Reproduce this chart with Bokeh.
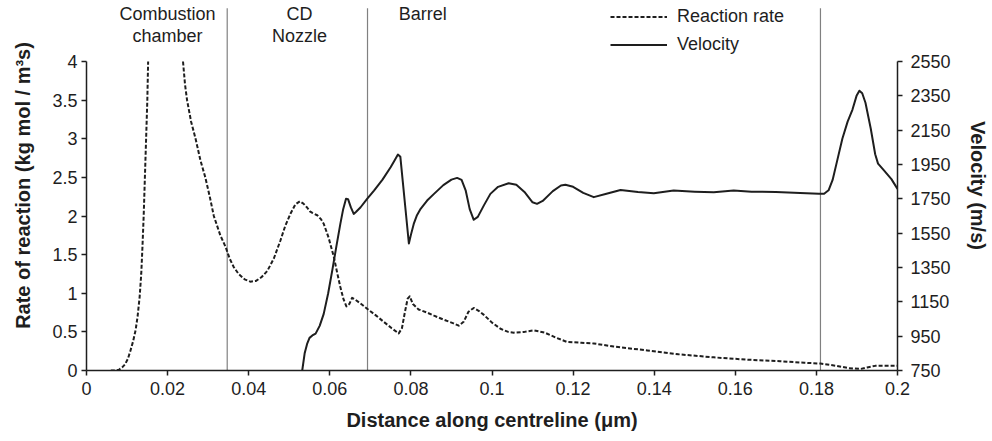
import numpy as np
from bokeh.plotting import figure
from bokeh.models import (Range1d, LinearAxis, FixedTicker, CustomJSTickFormatter,
                          Label, Legend, LegendItem, ColumnDataSource)
from bokeh.embed import file_html
from bokeh.resources import INLINE

# Reaction rate along the centreline (kg mol / m^3 s); the peak inside the
# combustion chamber runs above the plotted range and is left as a gap.
rate_x = [0.0060, 0.0070, 0.0080, 0.0088, 0.0095, 0.0102, 0.0108, 0.0115, 0.0121,
          0.0126, 0.0131, 0.0135, 0.0138, 0.0141, 0.0144, 0.0147, 0.0150, 0.0152,
          np.nan,
          0.0238, 0.0243, 0.0248, 0.0258, 0.0269, 0.0281, 0.0293, 0.0304, 0.0314,
          0.0330, 0.0343, 0.0353, 0.0363, 0.0375, 0.0390, 0.0404, 0.0418, 0.0432,
          0.0446, 0.0462, 0.0478, 0.0490, 0.0503, 0.0515, 0.0526, 0.0535, 0.0544,
          0.0551, 0.0557, 0.0569, 0.0578, 0.0585, 0.0597, 0.0610, 0.0618, 0.0626,
          0.0634, 0.0641, 0.0648, 0.0655, 0.0662, 0.0675, 0.0692, 0.0712, 0.0733,
          0.0752, 0.0770, 0.0778, 0.0785, 0.0792, 0.0797, 0.0805, 0.0819, 0.0840,
          0.0857, 0.0880, 0.0905, 0.0918, 0.0930, 0.0942, 0.0955, 0.0968, 0.0980,
          0.1000, 0.1021, 0.1040, 0.1054, 0.1080, 0.1103, 0.1130, 0.1160, 0.1185,
          0.1220, 0.1251, 0.1300, 0.1383, 0.1460, 0.1547, 0.1630, 0.1711, 0.1770,
          0.1810, 0.1850, 0.1880, 0.1909, 0.1925, 0.1945, 0.2000]
rate = [0.00, 0.00, 0.01, 0.04, 0.08, 0.15, 0.25, 0.38, 0.52,
        0.70, 0.95, 1.25, 1.60, 2.00, 2.50, 3.00, 3.50, 4.00,
        np.nan,
        4.00, 3.70, 3.50, 3.22, 3.00, 2.72, 2.50, 2.25, 2.00,
        1.75, 1.60, 1.45, 1.34, 1.25, 1.18, 1.15, 1.16, 1.21,
        1.29, 1.45, 1.68, 1.87, 2.03, 2.15, 2.19, 2.16, 2.11,
        2.06, 2.04, 2.01, 1.96, 1.90, 1.72, 1.47, 1.27, 1.08,
        0.92, 0.83, 0.86, 0.94, 0.92, 0.87, 0.80, 0.72, 0.63,
        0.55, 0.48, 0.55, 0.75, 0.93, 0.96, 0.86, 0.79, 0.75,
        0.71, 0.66, 0.61, 0.58, 0.63, 0.76, 0.81, 0.77, 0.72,
        0.62, 0.54, 0.50, 0.49, 0.50, 0.52, 0.49, 0.42, 0.37,
        0.36, 0.35, 0.31, 0.26, 0.21, 0.17, 0.14, 0.12, 0.10,
        0.09, 0.06, 0.03, 0.02, 0.04, 0.06, 0.06]

# Gas velocity along the centreline (m/s)
vel_x = [0.0532, 0.0538, 0.0544, 0.0550, 0.0557, 0.0565, 0.0575, 0.0585, 0.0596,
         0.0606, 0.0616, 0.0626, 0.0633, 0.0640, 0.0645, 0.0652, 0.0659, 0.0665,
         0.0676, 0.0692, 0.0709, 0.0730, 0.0750, 0.0760, 0.0768, 0.0774, 0.0780,
         0.0787, 0.0795, 0.0800, 0.0807, 0.0815, 0.0824, 0.0840, 0.0857, 0.0880,
         0.0900, 0.0914, 0.0925, 0.0935, 0.0945, 0.0955, 0.0965, 0.0980, 0.0996,
         0.1015, 0.1041, 0.1060, 0.1080, 0.1100, 0.1111, 0.1125, 0.1150, 0.1170,
         0.1181, 0.1200, 0.1225, 0.1251, 0.1280, 0.1317, 0.1360, 0.1399, 0.1448,
         0.1500, 0.1547, 0.1596, 0.1640, 0.1700, 0.1760, 0.1806, 0.1819, 0.1830,
         0.1840, 0.1852, 0.1864, 0.1877, 0.1889, 0.1899, 0.1906, 0.1913, 0.1921,
         0.1934, 0.1945, 0.1952, 0.1965, 0.1985, 0.2000]
velocity = [750, 850, 905, 940, 954, 965, 1010, 1080, 1200,
            1332, 1470, 1604, 1690, 1750, 1748, 1700, 1662, 1675,
            1701, 1750, 1798, 1862, 1934, 1975, 2008, 1995, 1850,
            1682, 1490, 1540, 1604, 1655, 1692, 1740, 1779, 1830,
            1862, 1872, 1860, 1800, 1690, 1628, 1645, 1712, 1779,
            1820, 1841, 1832, 1790, 1730, 1721, 1738, 1795, 1828,
            1832, 1820, 1785, 1760, 1778, 1802, 1790, 1783, 1798,
            1792, 1789, 1798, 1792, 1790, 1784, 1779, 1780, 1800,
            1860, 1980, 2100, 2200, 2270, 2350, 2380, 2365, 2310,
            2160, 2010, 1955, 1920, 1865, 1808]

# Section boundaries and their names
boundaries = [0.0347, 0.0693, 0.181]
section_names = [["Combustion", "chamber"], ["CD", "Nozzle"], ["Barrel"]]
section_centres = [0.0200, 0.0525, 0.0829]

x_ticks = [0, 0.02, 0.04, 0.06, 0.08, 0.1, 0.12, 0.14, 0.16, 0.18, 0.2]
rate_ticks = [0, 0.5, 1, 1.5, 2, 2.5, 3, 3.5, 4]
vel_ticks = [750, 950, 1150, 1350, 1550, 1750, 1950, 2150, 2350, 2550]

FONT = "Liberation Sans"
INK = "#1e1e1e"

# the frame reaches the top of the page; the axes stop at 4 / 2550 and the
# space above holds the section names and the legend
top_ext = 4.79
line_top = 4.69
p = figure(width=992, height=441, output_backend="svg", toolbar_location=None,
           x_range=Range1d(0, 0.2), y_range=Range1d(0, top_ext),
           min_border_left=86, min_border_right=95, min_border_top=0,
           min_border_bottom=71, outline_line_color=None)
p.extra_y_ranges = {"vel": Range1d(750, 750 + top_ext * (2550 - 750) / 4)}
p.grid.visible = False
p.background_fill_color = "white"
p.border_fill_color = "white"

fmt = CustomJSTickFormatter(code="return String(Math.round(tick * 1000) / 1000)")

def style_axis(ax, size="18px"):
    ax.axis_line_color = INK
    ax.axis_line_width = 1.5
    ax.major_tick_line_color = INK
    ax.major_tick_line_width = 1.5
    ax.major_tick_out = 5
    ax.major_tick_in = 0
    ax.minor_tick_line_color = None
    ax.major_label_text_font = FONT
    ax.major_label_text_font_size = size
    ax.major_label_text_color = INK
    ax.axis_label_text_font = FONT
    ax.axis_label_text_font_style = "bold"
    ax.axis_label_text_font_size = "20px"
    ax.axis_label_text_color = INK
    ax.formatter = fmt

xa = p.xaxis[0]
style_axis(xa)
xa.ticker = FixedTicker(ticks=x_ticks)
xa.bounds = (0, 0.2)
xa.axis_label = "Distance along centreline (\u03bcm)"
xa.major_label_standoff = 6
xa.axis_label_standoff = 11

ya = p.yaxis[0]
style_axis(ya)
ya.ticker = FixedTicker(ticks=rate_ticks)
ya.bounds = (0, 4)
ya.axis_label = "Rate of reaction (kg mol / m\u00b3s)"
ya.major_label_standoff = 4
ya.axis_label_standoff = 15

va = LinearAxis(y_range_name="vel")
style_axis(va)
va.ticker = FixedTicker(ticks=vel_ticks)
va.bounds = (750, 2550)
va.axis_label = "Velocity (m/s)"
va.major_label_standoff = 8
va.axis_label_standoff = 13
p.add_layout(va, "right")

# thin grey section boundaries
bsrc = ColumnDataSource(dict(x=boundaries, y0=[0] * len(boundaries),
                             y1=[line_top] * len(boundaries)))
p.segment(x0="x", y0="y0", x1="x", y1="y1", source=bsrc,
          line_color="#808080", line_width=1.2)

rate_src = ColumnDataSource(dict(x=np.array(rate_x, dtype=float), y=np.array(rate, dtype=float)))
vel_src = ColumnDataSource(dict(x=np.array(vel_x, dtype=float), y=np.array(velocity, dtype=float)))

r_rate = p.line("x", "y", source=rate_src, line_color=INK, line_width=2,
                line_dash="4 2", line_join="round")
r_vel = p.line("x", "y", source=vel_src, y_range_name="vel", line_color=INK,
               line_width=2, line_join="round")

# section names across the top
row_y = [4.621, 4.324]
for names, cx in zip(section_names, section_centres):
    for i, txt in enumerate(names):
        p.add_layout(Label(x=cx, y=row_y[i], text=txt, text_align="center",
                           text_baseline="middle", text_font=FONT,
                           text_font_size="18px", text_color=INK))

legend = Legend(items=[LegendItem(label="Reaction rate", renderers=[r_rate]),
                       LegendItem(label="Velocity", renderers=[r_vel])],
                location=(524, 315), orientation="vertical",
                glyph_width=57, glyph_height=21, label_height=21, spacing=7,
                label_standoff=10, padding=0, margin=0,
                border_line_color=None, background_fill_alpha=0,
                label_text_font=FONT, label_text_font_size="18px",
                label_text_color=INK)
p.add_layout(legend, "center")

open("out.html", "w").write(file_html(p, INLINE))
